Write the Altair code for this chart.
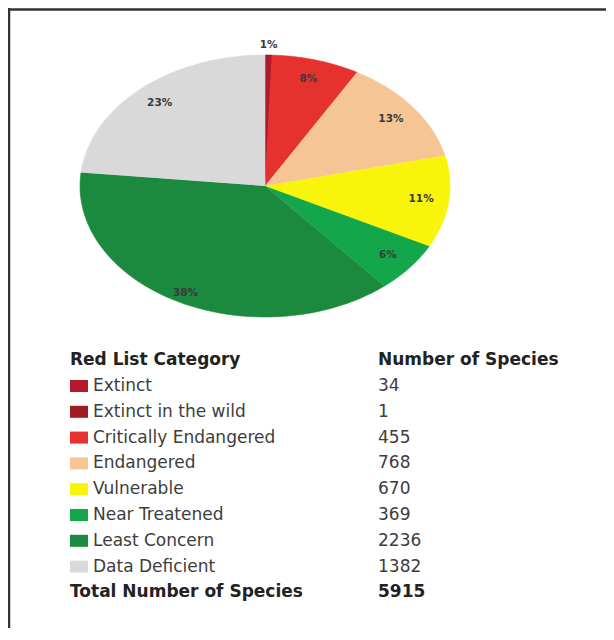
import altair as alt
import pandas as pd

categories = ["Extinct", "Extinct in the wild", "Critically Endangered", "Endangered",
              "Vulnerable", "Near Treatened", "Least Concern", "Data Deficient"]
species = [34, 1, 455, 768, 670, 369, 2236, 1382]
colors = ["#b3192c", "#9e1b22", "#e5322f", "#f6c596", "#f8f50a", "#14a64a", "#1c8a3e", "#d9d9d9"]
headers = ["Red List Category", "Number of Species"]
total_label = "Total Number of Species"

W, H = 598, 620
CX, CY, RX, RY = 257, 178, 185, 131
N = 60
ROW0, ROWH = 378, 25.8

df = pd.DataFrame({"cat": categories, "n": species, "idx": list(range(len(categories)))})

xs = alt.Scale(domain=[0, W], nice=False, zero=False)
ys = alt.Scale(domain=[H, 0], nice=False, zero=False)
cscale = alt.Scale(domain=categories, range=colors)
FONT = "DejaVu Sans"

base = alt.Chart(df)
angles = base.transform_window(
    cum="sum(n)", sort=[alt.SortField("idx")], frame=[None, 0]
).transform_joinaggregate(total="sum(n)").transform_calculate(
    a0="(datum.cum - datum.n) / datum.total * 2 * PI",
    a1="datum.cum / datum.total * 2 * PI",
    frac="datum.n / datum.total",
)

pie = angles.transform_calculate(
    k=f"sequence(0, {N + 2})"
).transform_flatten(["k"]).transform_calculate(
    a=f"datum.a0 + (datum.a1 - datum.a0) * min(datum.k, {N}) / {N}",
).transform_calculate(
    px=f"datum.k > {N} ? {CX} : {CX} + {RX} * sin(datum.a)",
    py=f"datum.k > {N} ? {CY} : {CY} - {RY} * cos(datum.a)",
).mark_line(strokeWidth=0.6, interpolate="linear").encode(
    x=alt.X("px:Q", scale=xs, axis=None),
    y=alt.Y("py:Q", scale=ys, axis=None),
    color=alt.Color("cat:N", scale=cscale, legend=None),
    fill=alt.Fill("cat:N", scale=cscale, legend=None),
    detail="cat:N",
    order="k:Q",
)

labels = angles.transform_filter("datum.frac >= 0.004").transform_calculate(
    am="(datum.a0 + datum.a1) / 2",
    r="datum.frac < 0.02 ? 1.08 : (datum.frac > 0.3 ? 0.92 : 0.85)",
).transform_calculate(
    lx=f"{CX} + {RX} * datum.r * sin(datum.am)",
    ly=f"{CY} - {RY} * datum.r * cos(datum.am)",
    txt="format(datum.frac, '.0%')",
).mark_text(fontSize=10.5, fontWeight="bold", color="#3a3a3a", font=FONT).encode(
    x=alt.X("lx:Q", scale=xs, axis=None),
    y=alt.Y("ly:Q", scale=ys, axis=None),
    text="txt:N",
)

rows = base.transform_calculate(ry=f"{ROW0} + datum.idx * {ROWH}")
swatch = rows.transform_calculate(
    sx1="62", sx2="80", sy1="datum.ry - 6", sy2="datum.ry + 6"
).mark_rect().encode(
    x=alt.X("sx1:Q", scale=xs, axis=None), x2="sx2:Q",
    y=alt.Y("sy1:Q", scale=ys, axis=None), y2="sy2:Q",
    color=alt.Color("cat:N", scale=cscale, legend=None),
)
names = rows.transform_calculate(tx="85").mark_text(
    align="left", baseline="middle", fontSize=17, color="#3d3d3d", font=FONT
).encode(
    x=alt.X("tx:Q", scale=xs, axis=None),
    y=alt.Y("ry:Q", scale=ys, axis=None),
    text="cat:N",
)
nums = rows.transform_calculate(tx="370").mark_text(
    align="left", baseline="middle", fontSize=17, color="#3d3d3d", font=FONT
).encode(
    x=alt.X("tx:Q", scale=xs, axis=None),
    y=alt.Y("ry:Q", scale=ys, axis=None),
    text="n:N",
)

hdr_df = pd.DataFrame({"t": headers + [total_label, str(sum(species))],
                       "col": [0, 1, 0, 1], "row": [0, 0, 1, 1]})
hdr = alt.Chart(hdr_df).transform_calculate(
    tx="datum.col == 0 ? 62 : 370",
    ty="datum.row == 0 ? 352 : 584",
).mark_text(align="left", baseline="middle", fontSize=17, fontWeight="bold",
            color="#222222", font=FONT).encode(
    x=alt.X("tx:Q", scale=xs, axis=None),
    y=alt.Y("ty:Q", scale=ys, axis=None),
    text="t:N",
)

one = alt.Chart(pd.DataFrame({"a": [0]}))
top_border = one.mark_rule(color="#333333", strokeWidth=2.5).encode(
    x=alt.value(0), x2=alt.value(W), y=alt.value(1.5))
left_border = one.mark_rule(color="#333333", strokeWidth=2.5).encode(
    x=alt.value(1), y=alt.value(0), y2=alt.value(H))

chart = alt.layer(pie, labels, swatch, names, nums, hdr, top_border, left_border).properties(
    width=W, height=H, padding=0, autosize=alt.AutoSizeParams(type="none")
).configure_view(stroke=None).resolve_scale(color="shared")

chart.save("out.html", embed_options={"renderer": "svg", "actions": False})
